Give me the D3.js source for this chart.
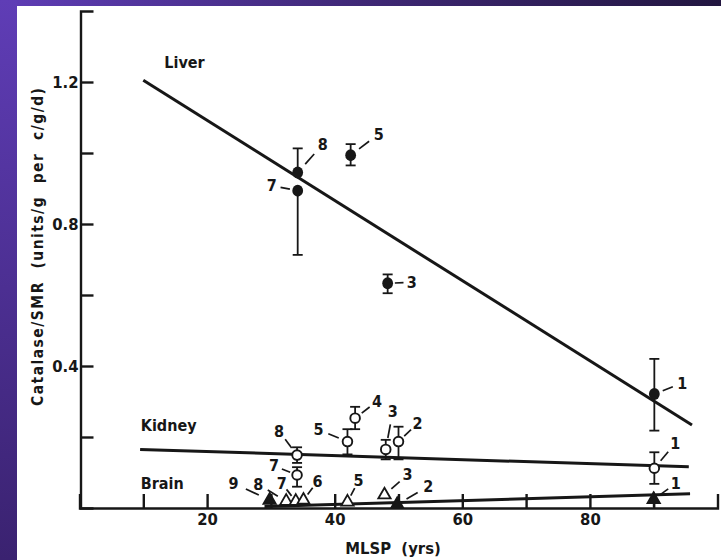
<!DOCTYPE html>
<html lang="en">
<head>
<meta charset="utf-8">
<script src="https://cdn.jsdelivr.net/npm/d3@7"></script>
<style>
  body { margin: 0; background: #fff; }
  svg { display: block; }
  text { font-family: "DejaVu Sans Condensed", "DejaVu Sans", sans-serif; font-weight: bold; fill: #171717; }
</style>
</head>
<body>
<div id="chart"></div>
<script>
// ---- data ----
// Liver (filled circles)
const liverId   = [8, 7, 5, 3, 1];
const liverMLSP = [34.2, 34.2, 42.5, 48.3, 90.1];
const liverVal  = [0.945, 0.894, 0.994, 0.633, 0.321];
const liverHi   = [1.013, 0.894, 1.025, 0.658, 0.420];
const liverLo   = [0.945, 0.713, 0.965, 0.605, 0.218];

// Kidney (open circles)
const kidneyId   = [8, 7, 5, 4, 3, 2, 1];
const kidneyMLSP = [34.1, 34.1, 42.0, 43.2, 48.0, 50.0, 90.1];
const kidneyVal  = [0.149, 0.093, 0.187, 0.253, 0.165, 0.187, 0.112];
const kidneyHi   = [0.171, 0.115, 0.222, 0.285, 0.192, 0.229, 0.157];
const kidneyLo   = [0.127, 0.060, 0.151, 0.222, 0.137, 0.137, 0.068];

// Brain (triangles, some filled)
const brainId     = [9, 8, 7, 6, 5, 3, 2, 1];
const brainMLSP   = [29.8, 32.4, 33.9, 35.1, 42.0, 47.8, 49.8, 90.0];
const brainVal    = [0.022, 0.019, 0.019, 0.022, 0.017, 0.037, 0.010, 0.024];
const brainFilled = [true, false, false, false, false, false, true, true];
const brainHi     = [0.022, 0.019, 0.019, 0.022, 0.017, 0.037, 0.010, 0.046];
const brainLo     = [0.022, 0.019, 0.019, 0.022, 0.017, 0.037, 0.010, 0.003];

// regression lines (end points)
const liverFit  = [[10, 1.205], [96, 0.234]];
const kidneyFit = [[9.5, 0.165], [95.5, 0.116]];
const brainFit  = [[29, 0.004], [95.7, 0.040]];

// axis ticks
const xTicks = [10, 20, 30, 40, 50, 60, 70, 80, 90];
const xLabels = [20, 40, 60, 80];
const yTicks = [0.2, 0.4, 0.6, 0.8, 1.0, 1.2];
const yLabels = [0.4, 0.8, 1.2];

// ---- layout: label offsets (px) from each point ----
const liverLab  = [[25, -28], [-26, -5], [28, -21], [24, -1], [28, -11]];
const kidneyLab = [[-18, -24], [-23, -9], [-29, -12], [22, -17], [7, -38], [19, -18], [21, -25]];
const brainLab  = [[-36, -17], [-28, -17], [-14, -18], [14, -19], [11, -21], [23, -20], [31, -18], [22, -16]];

const width = 721, height = 560;
const ink = "#171717";

const svg = d3.select("#chart").append("svg")
    .attr("width", width)
    .attr("height", height);

// purple slide frame
const defs = svg.append("defs");
const gl = defs.append("linearGradient").attr("id", "gl")
    .attr("x1", 0).attr("y1", 0).attr("x2", 0).attr("y2", 1);
gl.append("stop").attr("offset", 0).attr("stop-color", "#5f3db6");
gl.append("stop").attr("offset", 1).attr("stop-color", "#3a2270");
const gt = defs.append("linearGradient").attr("id", "gt")
    .attr("x1", 0).attr("y1", 0).attr("x2", 1).attr("y2", 0);
gt.append("stop").attr("offset", 0).attr("stop-color", "#5f3db6");
gt.append("stop").attr("offset", 0.5).attr("stop-color", "#3f2876");
gt.append("stop").attr("offset", 1).attr("stop-color", "#221640");

svg.append("rect").attr("width", width).attr("height", height).attr("fill", "#fff");
svg.append("rect").attr("width", width).attr("height", 6).attr("fill", "url(#gt)");
svg.append("rect").attr("width", 17).attr("height", height).attr("fill", "url(#gl)");

// scales
const x = d3.scaleLinear().domain([0, 100]).range([79.5, 717.5]);
const y = d3.scaleLinear().domain([0, 1.4]).range([508, 11]);

// axes
const xAxis = d3.axisBottom(x)
    .tickValues(xTicks)
    .tickSizeInner(-14)
    .tickSizeOuter(-14)
    .tickPadding(5)
    .tickFormat(d => xLabels.includes(d) ? d : "");

const yAxis = d3.axisLeft(y)
    .tickValues(yTicks)
    .tickSizeInner(-13)
    .tickSizeOuter(-13)
    .tickPadding(2)
    .tickFormat(d => yLabels.some(v => Math.abs(v - d) < 1e-9) ? d3.format(".1f")(d) : "");

const gx = svg.append("g")
    .attr("transform", `translate(0,${y(0)})`)
    .style("color", ink)
    .call(xAxis);

const gy = svg.append("g")
    .attr("transform", `translate(${x(0) + 1},0)`)
    .style("color", ink)
    .call(yAxis);

[gx, gy].forEach(g => {
    g.selectAll("path, line").attr("stroke-width", 2.4);
    g.selectAll("text").style("font-size", "16.5px");
});

// axis titles
svg.append("text")
    .attr("x", 393)
    .attr("y", 554)
    .attr("text-anchor", "middle")
    .style("font-size", "16.5px")
    .style("white-space", "pre")
    .text("MLSP  (yrs)");

svg.append("text")
    .attr("transform", "translate(43,247) rotate(-90)")
    .attr("text-anchor", "middle")
    .style("font-size", "15.5px")
    .style("white-space", "pre")
    .attr("textLength", 318)
    .attr("lengthAdjust", "spacing")
    .text("Catalase/SMR  (units/g  per  c/g/d)");

// series names
svg.append("text").attr("x", x(13.3)).attr("y", 68).style("font-size", "16px").text("Liver");
svg.append("text").attr("x", x(9.6)).attr("y", 431).style("font-size", "16px").text("Kidney");
svg.append("text").attr("x", x(9.6)).attr("y", 489).style("font-size", "16px").text("Brain");

// regression lines
const line = d3.line().x(d => x(d[0])).y(d => y(d[1]));
[liverFit, kidneyFit, brainFit].forEach(f => {
    svg.append("path")
        .attr("d", line(f))
        .attr("fill", "none")
        .attr("stroke", ink)
        .attr("stroke-width", 3);
});

// helper to build point records
function rows(ids, xs, vs, hi, lo, lab, filled) {
    return ids.map((id, i) => ({
        id, mlsp: xs[i], v: vs[i], hi: hi[i], lo: lo[i],
        lab: lab[i], filled: filled ? filled[i] : null
    }));
}
const liver  = rows(liverId, liverMLSP, liverVal, liverHi, liverLo, liverLab);
const kidney = rows(kidneyId, kidneyMLSP, kidneyVal, kidneyHi, kidneyLo, kidneyLab);
const brain  = rows(brainId, brainMLSP, brainVal, brainHi, brainLo, brainLab, brainFilled);

// error bars
function errorBars(data, cap) {
    const g = svg.append("g").attr("stroke", ink).attr("stroke-width", 1.8);
    data.forEach(d => {
        const cx = x(d.mlsp);
        if (d.hi > d.v) {
            g.append("line").attr("x1", cx).attr("x2", cx).attr("y1", y(d.v)).attr("y2", y(d.hi));
            if (cap) g.append("line").attr("x1", cx - 5).attr("x2", cx + 5).attr("y1", y(d.hi)).attr("y2", y(d.hi));
        }
        if (d.lo < d.v) {
            g.append("line").attr("x1", cx).attr("x2", cx).attr("y1", y(d.v)).attr("y2", y(d.lo));
            if (cap) g.append("line").attr("x1", cx - 5).attr("x2", cx + 5).attr("y1", y(d.lo)).attr("y2", y(d.lo));
        }
    });
}
errorBars(liver, true);
errorBars(kidney, true);
errorBars(brain, false);

// markers
svg.append("g").selectAll("ellipse")
    .data(liver)
    .enter().append("ellipse")
    .attr("cx", d => x(d.mlsp))
    .attr("cy", d => y(d.v))
    .attr("rx", 5.4)
    .attr("ry", 6)
    .attr("fill", ink);

svg.append("g").selectAll("circle")
    .data(kidney)
    .enter().append("circle")
    .attr("cx", d => x(d.mlsp))
    .attr("cy", d => y(d.v))
    .attr("r", 4.8)
    .attr("fill", "#fff")
    .attr("stroke", ink)
    .attr("stroke-width", 1.9);

const tri = d3.symbol().type(d3.symbolTriangle).size(66);
svg.append("g").selectAll("path")
    .data(brain)
    .enter().append("path")
    .attr("d", tri)
    .attr("transform", d => `translate(${x(d.mlsp)},${y(d.v)})`)
    .attr("fill", d => d.filled ? ink : "#fff")
    .attr("stroke", ink)
    .attr("stroke-width", 1.8);

// numbered labels with short leader dashes
function numberLabels(data) {
    const g = svg.append("g");
    data.forEach(d => {
        const px = x(d.mlsp), py = y(d.v);
        const [dx, dy] = d.lab;
        g.append("line")
            .attr("x1", px + dx * 0.3).attr("y1", py + dy * 0.3)
            .attr("x2", px + dx * 0.66).attr("y2", py + dy * 0.66)
            .attr("stroke", ink)
            .attr("stroke-width", 1.7);
        g.append("text")
            .attr("x", px + dx)
            .attr("y", py + dy)
            .attr("text-anchor", "middle")
            .attr("dominant-baseline", "central")
            .style("font-size", "16px")
            .text(d.id);
    });
}
numberLabels(liver);
numberLabels(kidney);
numberLabels(brain);
</script>
</body>
</html>
